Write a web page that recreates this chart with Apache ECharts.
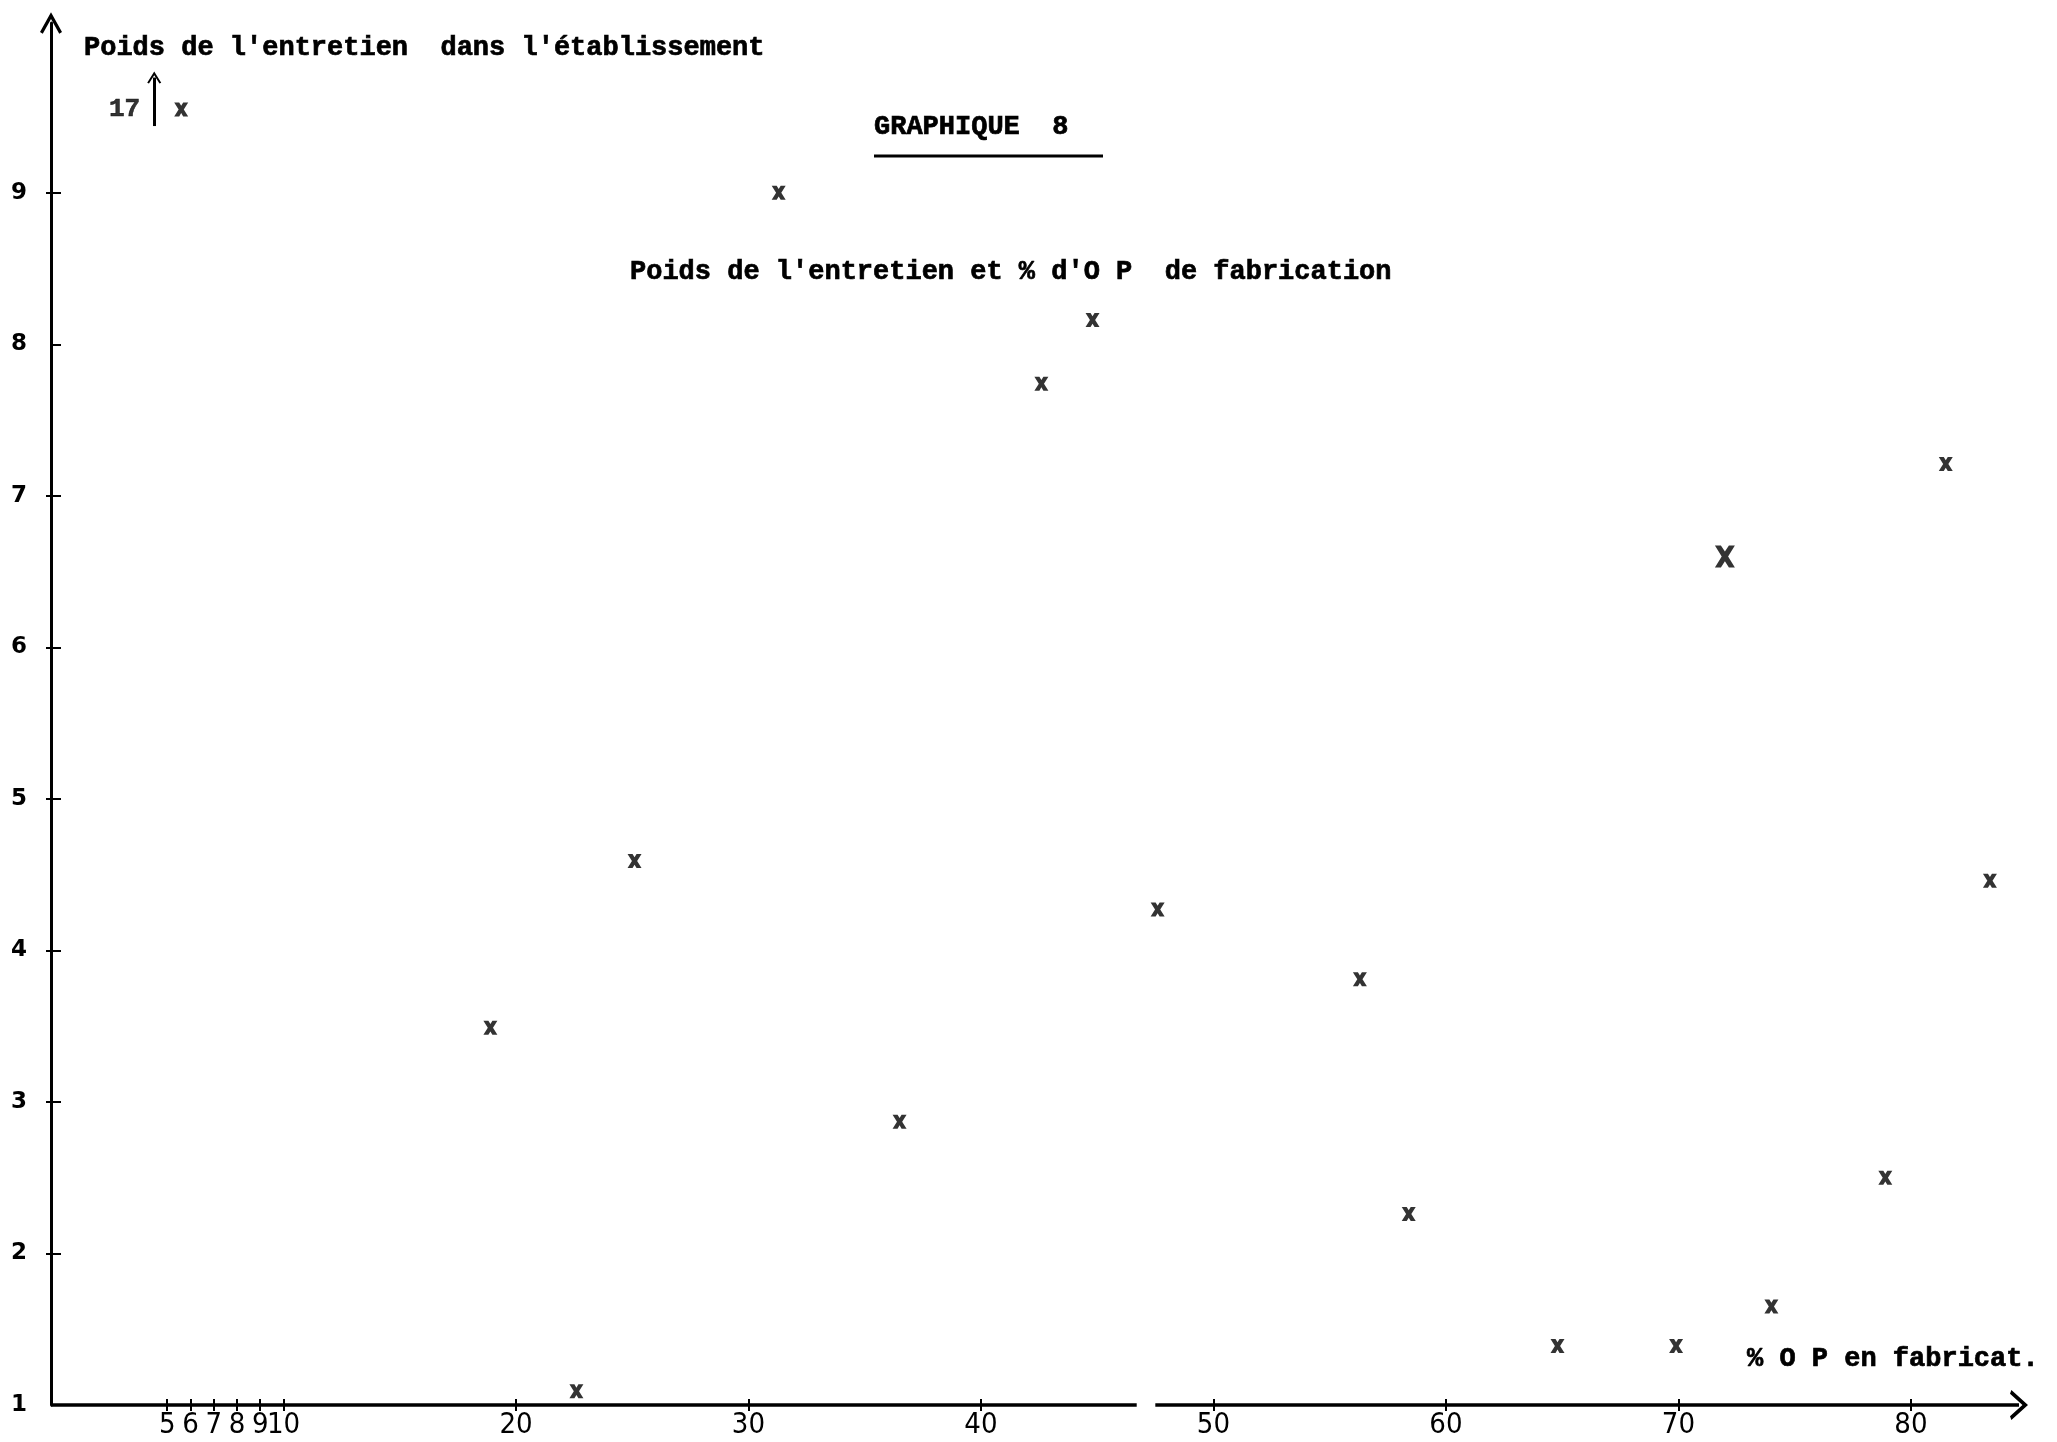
<!DOCTYPE html>
<html><head><meta charset="utf-8">
<script src="https://cdn.jsdelivr.net/npm/echarts@6/dist/echarts.min.js"></script>
<style>html,body{margin:0;padding:0;background:#fff}#c{width:2057px;height:1442px}</style>
</head><body><div id="c"></div>
<script>
// ---- data ----
const xTickValues = [5, 6, 7, 8, 9, 10, 20, 30, 40, 50, 60, 70, 80];
const yTickValues = [1, 2, 3, 4, 5, 6, 7, 8, 9];
// % O.P. en fabrication (x) / poids de l'entretien (y)
const pctOP = [31.3, 44.8, 42.6, 81.5, 25.1, 47.6, 83.4, 56.3, 18.9, 36.5, 58.4, 78.9, 74.0, 64.8, 69.9, 22.6];
const poids = [9.0, 8.16, 7.74, 7.21, 4.59, 4.27, 4.46, 3.81, 3.49, 2.87, 2.26, 2.50, 1.65, 1.39, 1.39, 1.09];
// point drawn with a larger X
const bigPctOP = [72.0];
const bigPoids = [6.6];
// off-scale point (value 17, drawn at the top with an arrow)
const outlierPctOP = [5.6];
const outlierPoids = [17];
// axis break on the x axis
const xBreak = [46.7, 47.5];

const X_MIN = 0, X_MAX = 84.65, Y_MIN = 1, Y_MAX = 10.12;
const OFF_SCALE_Y = 9.55;

const CHEVRON = 'path://M0,18 L10,0 L20,18 L17.5,19.5 L10,6 L2.5,19.5 Z';
const XMARK = 'path://M0,0 L5,0 L7,3.3 L9,0 L14,0 L9.6,7 L14,14 L9,14 L7,10.7 L5,14 L0,14 L4.4,7 Z';
const BIGX = 'path://M0,0 L6,0 L10,5.6 L14,0 L20,0 L13.2,10 L20,20 L14,20 L10,14.4 L6,20 L0,20 L6.8,10 Z';
const MONO = '"Liberation Mono", "DejaVu Sans Mono", monospace';
const INK = '#000';

const mainData = pctOP.map((x, i) => [x, poids[i]]);
const bigData = bigPctOP.map((x, i) => [x, bigPoids[i]]);
const outData = outlierPctOP.map((x, i) => [x, OFF_SCALE_Y, outlierPoids[i]]);

const textStyle = (t, x, y) => ({
  type: 'text', x: x, y: y,
  style: {text: t, font: 'bold 27px ' + MONO, fill: INK, stroke: INK, lineWidth: 0.7, verticalAlign: 'middle'}
});

const chart = echarts.init(document.getElementById('c'), null, {renderer: 'canvas'});
chart.setOption({
  backgroundColor: '#fff',
  animation: false,
  grid: {left: 51, right: 38, top: 23, bottom: 37, containLabel: false},
  xAxis: [{
    type: 'value', min: X_MIN, max: X_MAX, position: 'bottom',
    splitLine: {show: false},
    axisLine: {show: false},
    axisTick: {show: true, customValues: xTickValues, length: 6, lineStyle: {color: INK, width: 2}},
    axisLabel: {
      customValues: xTickValues, margin: 6, color: INK, hideOverlap: false,
      fontFamily: '"Liberation Sans Narrow", "DejaVu Sans Condensed", sans-serif', fontSize: 29
    }
  }, {
    type: 'value', min: X_MIN, max: X_MAX, position: 'bottom', offset: 0,
    splitLine: {show: false}, axisLine: {show: false}, axisLabel: {show: false},
    axisTick: {show: true, customValues: xTickValues, inside: true, length: 6, lineStyle: {color: INK, width: 2}}
  }],
  yAxis: [{
    type: 'value', min: Y_MIN, max: Y_MAX, position: 'left',
    splitLine: {show: false},
    axisLine: {show: true, symbol: ['none', CHEVRON], symbolSize: [22, 22], lineStyle: {color: INK, width: 3}},
    axisTick: {show: true, customValues: [2, 3, 4, 5, 6, 7, 8, 9], inside: true, length: 10, lineStyle: {color: INK, width: 2}},
    axisLabel: {
      customValues: yTickValues, margin: 24, color: INK, padding: [0, 0, 16, 0],
      fontFamily: '"DejaVu Sans", sans-serif', fontWeight: 'bold', fontSize: 23
    }
  }, {
    type: 'value', min: Y_MIN, max: Y_MAX, position: 'left', offset: 0,
    splitLine: {show: false}, axisLine: {show: false}, axisLabel: {show: false},
    axisTick: {show: true, customValues: [2, 3, 4, 5, 6, 7, 9], length: 5, lineStyle: {color: INK, width: 2}}
  }],
  graphic: [
    textStyle("Poids de l'entretien  dans l'établissement", 84, 48),
    textStyle('GRAPHIQUE  8', 874, 127),
    {type: 'line', shape: {x1: 874, y1: 156, x2: 1103, y2: 156}, style: {stroke: INK, lineWidth: 3}},
    textStyle("Poids de l'entretien et % d'O P  de fabrication", 630, 272),
    textStyle('% O P en fabricat.', 1747, 1359)
  ],
  series: [
    {
      type: 'scatter', name: 'axe', data: [], clip: false, silent: true,
      markLine: {
        silent: true, animation: false, symbol: ['none', 'none'],
        label: {show: false}, lineStyle: {color: INK, width: 3.5, type: 'solid'},
        data: [
          [{coord: [X_MIN, Y_MIN]}, {coord: [xBreak[0], Y_MIN]}],
          [{coord: [xBreak[1], Y_MIN]}, {coord: [X_MAX, Y_MIN], symbol: CHEVRON, symbolSize: [30, 18]}]
        ]
      }
    },
    {
      type: 'scatter', name: 'points', data: mainData, clip: false,
      symbol: XMARK, symbolSize: [14, 14], itemStyle: {color: INK}
    },
    {
      type: 'scatter', name: 'grand', data: bigData, clip: false,
      symbol: BIGX, symbolSize: [20, 22], itemStyle: {color: INK}
    },
    {
      type: 'scatter', name: 'hors echelle', data: outData, clip: false,
      symbol: XMARK, symbolSize: [14, 14], itemStyle: {color: INK},
      label: {show: true, position: 'left', distance: 34, formatter: p => String(p.value[2]),
        fontFamily: MONO, fontWeight: 'bold', fontSize: 26, color: INK, textBorderColor: INK, textBorderWidth: 0.6},
      markLine: {
        silent: true, animation: false, symbol: ['none', 'none'],
        label: {show: false}, lineStyle: {color: INK, width: 3, type: 'solid'},
        data: outData.map(d => [
          {coord: [d[0] - 1.16, d[1] - 0.11]},
          {coord: [d[0] - 1.16, d[1] + 0.21], symbol: CHEVRON, symbolSize: [14, 12]}
        ])
      }
    }
  ]
});
</script>
</body></html>
